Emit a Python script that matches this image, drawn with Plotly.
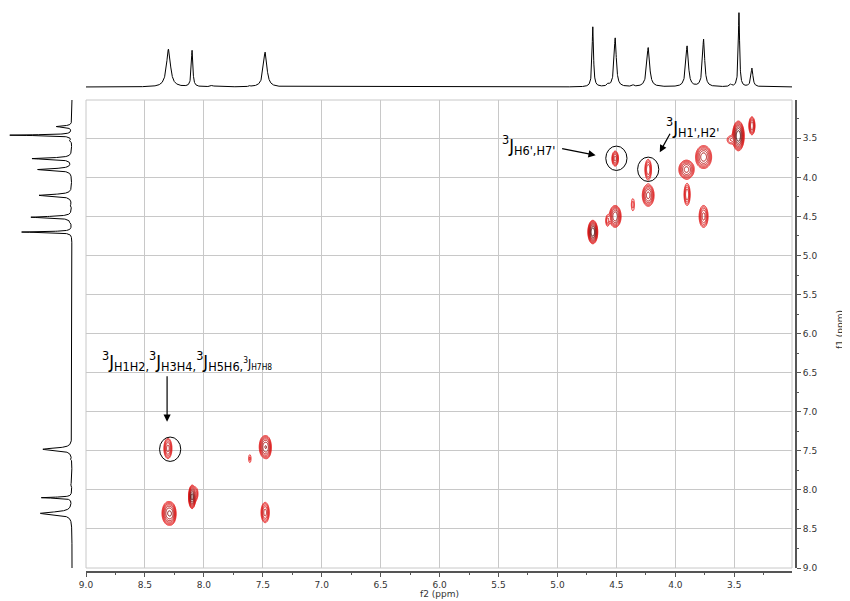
import numpy as np
import plotly.graph_objects as go

W, H = 850, 601
OFF = 8  # default page (body) margin in the browser

# ---------------- data ----------------
# 1H projection (same spectrum on both axes)
proj_shift = [8.30, 8.10, 7.48, 4.70, 4.51, 4.23, 3.90, 3.76, 3.46, 3.35, 7.93, 7.61, 4.57, 4.36, 3.53]
proj_height = [51, 49, 47, 81, 66, 53, 55, 64, 100, 25, 2, 1.5, 3, 2, 3]
proj_fwhm = [0.040, 0.015, 0.035, 0.014, 0.022, 0.028, 0.026, 0.022, 0.013, 0.020, 0.03, 0.01, 0.02, 0.02, 0.02]

# COSY cross / diagonal peaks: f2, f1, log intensity, outer half-widths (ppm)
pk_f2 = [3.35, 3.465, 3.53, 3.76, 3.905, 3.90, 3.76, 4.23, 4.23, 4.36, 4.51, 4.51, 4.575, 4.70,
         8.305, 7.485, 7.46, 7.61, 8.10, 8.07, 8.30, 8.27, 7.48]
pk_f1 = [3.34, 3.47, 3.52, 3.74, 3.90, 4.22, 4.50, 3.90, 4.23, 4.35, 3.76, 4.50, 4.555, 4.70,
         7.47, 7.45, 7.46, 7.60, 8.09, 8.05, 8.30, 8.31, 8.29]
pk_lnI = [2.0, 3.2, 0.8, 2.3, 2.2, 1.6, 1.8, 1.6, 2.2, 0.6, 1.8, 2.4, 1.0, 3.2,
          1.8, 2.2, 1.6, 0.5, 3.0, 1.0, 2.4, 1.5, 1.8]
pk_hw2 = [0.026, 0.050, 0.030, 0.068, 0.065, 0.026, 0.038, 0.028, 0.050, 0.013, 0.028, 0.050, 0.015, 0.042,
          0.034, 0.045, 0.030, 0.010, 0.030, 0.020, 0.055, 0.030, 0.035]
pk_hw1 = [0.115, 0.190, 0.050, 0.147, 0.120, 0.140, 0.140, 0.130, 0.140, 0.077, 0.096, 0.140, 0.070, 0.150,
          0.130, 0.140, 0.120, 0.050, 0.150, 0.080, 0.150, 0.110, 0.130]

x_ticks = [9.0, 8.5, 8.0, 7.5, 7.0, 6.5, 6.0, 5.5, 5.0, 4.5, 4.0, 3.5]
y_ticks = [3.5, 4.0, 4.5, 5.0, 5.5, 6.0, 6.5, 7.0, 7.5, 8.0, 8.5, 9.0]

# ---------------- geometry helpers (screen pixels -> paper) ----------------
def px(v):
    return (v - OFF) / W

def py(v):
    return (H - (v - OFF)) / H

X_RANGE = [9.0, 3.01]
Y_RANGE = [9.0, 3.01]
xdom = [px(86), px(792)]
ydom = [py(568), py(100)]

# ---------------- 1D projection ----------------
axis_pts = np.arange(3.0, 9.0005, 0.001)
spec = np.zeros_like(axis_pts)
for s, h, w in zip(proj_shift, proj_height, proj_fwhm):
    spec += h / (1 + ((axis_pts - s) / (w / 2)) ** 2)

fig = go.Figure()

fig.add_trace(go.Scatter(x=axis_pts, y=spec, mode='lines', line=dict(color='black', width=1),
                         xaxis='x2', yaxis='y2', hoverinfo='skip', showlegend=False))
fig.add_trace(go.Scatter(x=spec, y=axis_pts, mode='lines', line=dict(color='black', width=1),
                         xaxis='x3', yaxis='y3', hoverinfo='skip', showlegend=False))

# ---------------- 2D contours ----------------
regions = [((3.20, 4.90), (3.10, 5.00)), ((7.30, 8.50), (7.25, 8.55))]
cscale = [[0, '#e81818'], [0.4, '#d41414'], [0.75, '#a80c0c'], [1, '#4a0404']]
for (xa, xb), (ya, yb) in regions:
    gx = np.arange(xa, xb, 0.003)
    gy = np.arange(ya, yb, 0.005)
    XX, YY = np.meshgrid(gx, gy)
    Z = np.zeros_like(XX)
    for f2, f1, lnI, hw2, hw1 in zip(pk_f2, pk_f1, pk_lnI, pk_hw2, pk_hw1):
        if not (xa <= f2 <= xb and ya <= f1 <= yb):
            continue
        sx = hw2 / np.sqrt(2 * lnI)
        sy = hw1 / np.sqrt(2 * lnI)
        Z += np.exp(lnI) * np.exp(-((XX - f2) ** 2 / (2 * sx ** 2) + (YY - f1) ** 2 / (2 * sy ** 2)))
    LZ = np.round(np.log(np.maximum(Z, np.exp(-1))), 2)
    fig.add_trace(go.Contour(x=np.round(gx, 4), y=np.round(gy, 4), z=LZ,
                             contours=dict(start=0, end=3.0, size=0.4, coloring='lines'),
                             line=dict(width=1), colorscale=cscale, zmin=0, zmax=3.3,
                             showscale=False, hoverinfo='skip', xaxis='x', yaxis='y'))

# ---------------- layout ----------------
tick_font = dict(family='DejaVu Sans', size=9, color='#333333')
grid_c = '#c8c8c8'

fig.update_layout(
    template='none',
    width=W, height=H, margin=dict(l=0, r=0, t=0, b=0, pad=0, autoexpand=False),
    paper_bgcolor='white', plot_bgcolor='white', showlegend=False,
    xaxis=dict(domain=xdom, range=X_RANGE, anchor='free', position=py(572), automargin=False,
               tickmode='array', tickvals=x_ticks, ticktext=[f'{v:.1f}' for v in x_ticks],
               showgrid=True, gridcolor=grid_c, gridwidth=1, zeroline=False,
               showline=True, linecolor='#555555', linewidth=2,
               ticks='outside', ticklen=4, tickwidth=1, tickcolor='#555555', tickfont=tick_font,
               minor=dict(tickmode='linear', tick0=0, dtick=0.25, ticks='outside', ticklen=2,
                          tickcolor='#555555', showgrid=False)),
    yaxis=dict(domain=ydom, range=Y_RANGE, anchor='free', position=px(796), side='right',
               automargin=False,
               tickmode='array', tickvals=y_ticks, ticktext=[f'{v:.1f}' for v in y_ticks],
               showgrid=True, gridcolor=grid_c, gridwidth=1, zeroline=False,
               showline=True, linecolor='#555555', linewidth=2,
               ticks='outside', ticklen=4, tickwidth=1, tickcolor='#555555', tickfont=tick_font,
               minor=dict(tickmode='linear', tick0=0, dtick=0.25, ticks='outside', ticklen=2,
                          tickcolor='#555555', showgrid=False)),
    xaxis2=dict(domain=xdom, range=X_RANGE, anchor='y2', visible=False, automargin=False),
    yaxis2=dict(domain=[py(89.2), py(11.5)], range=[-3, 102], anchor='x2', visible=False, automargin=False),
    xaxis3=dict(domain=[px(8.8), px(73.9)], range=[102, -3], anchor='y3', visible=False, automargin=False),
    yaxis3=dict(domain=ydom, range=Y_RANGE, anchor='x3', visible=False, automargin=False),
)

# plot frame
fig.add_shape(type='rect', xref='x domain', yref='y domain', x0=0, x1=1, y0=0, y1=1,
              line=dict(color=grid_c, width=1), layer='below')

# annotation circles around highlighted cross peaks
circles = [(4.50, 3.756), (4.23, 3.897), (8.286, 7.48)]
rx, ry = 0.090, 0.156
for cx, cy in circles:
    fig.add_shape(type='circle', xref='x', yref='y', x0=cx - rx, x1=cx + rx, y0=cy - ry, y1=cy + ry,
                  line=dict(color='black', width=1))

# arrows (head, tail)
arrows = [((4.676, 3.718), (4.973, 3.628)),
          ((4.132, 3.679), (4.038, 3.423)),
          ((8.312, 7.128), (8.312, 6.526))]
for (hx, hy), (tx, ty) in arrows:
    fig.add_annotation(x=hx, y=hy, ax=tx, ay=ty, xref='x', yref='y', axref='x', ayref='y',
                       text='', showarrow=True, arrowhead=2, arrowsize=1.2, arrowwidth=1.2,
                       arrowcolor='black')

lab_font = dict(family='Liberation Sans Narrow, Arial Narrow, DejaVu Sans Condensed, sans-serif',
                size=18, color='black')
fig.add_annotation(x=5.0, y=3.59, xref='x', yref='y', xanchor='right', yanchor='middle',
                   text="<sup>3</sup>J<sub>H6',H7'</sub>", showarrow=False, font=lab_font)
fig.add_annotation(x=4.10, y=3.35, xref='x', yref='y', xanchor='left', yanchor='middle',
                   text="<sup>3</sup>J<sub>H1',H2'</sub>", showarrow=False, font=lab_font)
fig.add_annotation(x=8.885, y=6.35, xref='x', yref='y', xanchor='left', yanchor='middle',
                   text=("<sup>3</sup>J<sub>H1H2,</sub><sup>3</sup>J<sub>H3H4,</sub>"
                         "<sup>3</sup>J<sub>H5H6,</sub>"
                         "<span style='font-size:12px'><sup>3</sup>J<sub>H7H8</sub></span>"),
                   showarrow=False, font=lab_font)

# axis titles
fig.add_annotation(x=px(440), y=py(594), xref='paper', yref='paper', text='f2 (ppm)',
                   showarrow=False, font=tick_font, xanchor='center', yanchor='middle')
fig.add_annotation(x=px(840), y=py(330), xref='paper', yref='paper', text='f1 (ppm)',
                   showarrow=False, font=tick_font, textangle=-90, xanchor='center', yanchor='middle')

fig.write_html('out.html',
               post_script="document.documentElement.style.overflow='hidden';"
                           "document.body.style.overflow='hidden';")
